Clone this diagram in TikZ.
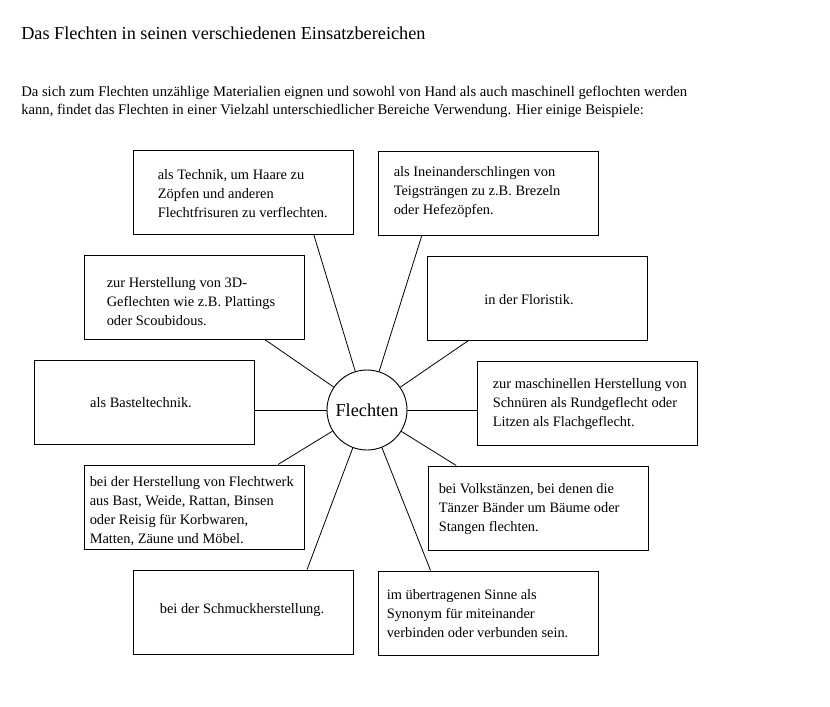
\documentclass[tikz,border=0pt]{standalone}
\usepackage{fontspec}
\setmainfont{Liberation Serif}
\usetikzlibrary{calc}

\begin{document}
\begin{tikzpicture}[x=0.75pt, y=-0.75pt,
  font=\fontsize{10.8}{14.25}\selectfont,
  feld/.style={draw, line width=0.75pt, minimum width=165pt, minimum height=63pt, inner sep=0pt},
  inhalt/.style={anchor=west, align=left, inner sep=0pt},
  strahl/.style={line width=0.6pt}]
\path[fill=white, use as bounding box] (0,0) rectangle (830,706);
% ================= heading =================
\node[anchor=base west, inner sep=0pt, font=\fontsize{13.7}{16}\selectfont] (titel) at (21,40)
   {Das Flechten in seinen verschiedenen Einsatzbereichen};
\node[anchor=base west, inner sep=0pt, align=left, font=\fontsize{11}{13.5}\selectfont] (einleitung) at (21,115)
   {Da sich zum Flechten unzählige Materialien eignen und sowohl von Hand als auch maschinell geflochten werden\\
    kann, findet das Flechten in einer Vielzahl unterschiedlicher Bereiche Verwendung. Hier einige Beispiele:};
% ================= centre =================
\node[draw, circle, line width=0.7pt, minimum size=60pt, inner sep=0pt, font=\fontsize{13.7}{16}\selectfont] (kern) at (367,410) {Flechten};
% ================= boxes, left column =================
\node[feld] (zoepfe) at (243,192) {};
\node[inhalt] (zoepfe-t) at ($(zoepfe.west)+(25,2)$)
   {als Technik, um Haare zu\\Zöpfen und anderen\\Flechtfrisuren zu verflechten.};
\node[feld] (geflecht) at (194,297) {};
\node[inhalt] (geflecht-t) at ($(geflecht.west)+(23,5)$)
   {zur Herstellung von 3D-\\Geflechten wie z.B. Plattings\\oder Scoubidous.};
\node[feld] (bastel) at (144,402) {};
\node[inhalt, anchor=center] (bastel-t) at ($(bastel.center)+(-3,1)$) {als Basteltechnik.};
\node[feld] (korb) at (194,507) {};
\node[inhalt] (korb-t) at ($(korb.west)+(6,4)$)
   {bei der Herstellung von Flechtwerk\\aus Bast, Weide, Rattan, Binsen\\oder Reisig für Korbwaren,\\Matten, Zäune und Möbel.};
\node[feld] (schmuck) at (243,612) {};
\node[inhalt, anchor=center] (schmuck-t) at ($(schmuck.center)+(-1,-2)$) {bei der Schmuckherstellung.};
% ================= boxes, right column =================
\node[feld] (brezel) at (488,193.5) {};
\node[inhalt] (brezel-t) at ($(brezel.west)+(16,-1.5)$)
   {als Ineinanderschlingen von\\Teigsträngen zu z.B. Brezeln\\oder Hefezöpfen.};
\node[feld] (floristik) at (537,298) {};
\node[inhalt, anchor=center] (floristik-t) at ($(floristik.center)+(-8,2)$) {in der Floristik.};
\node[feld] (schnur) at (587,403.5) {};
\node[inhalt] (schnur-t) at ($(schnur.west)+(16,1)$)
   {zur maschinellen Herstellung von\\Schnüren als Rundgeflecht oder\\Litzen als Flachgeflecht.};
\node[feld] (tanz) at (538,508) {};
\node[inhalt] (tanz-t) at ($(tanz.west)+(11,1)$)
   {bei Volkstänzen, bei denen die\\Tänzer Bänder um Bäume oder\\Stangen flechten.};
\node[feld] (sinn) at (488,613) {};
\node[inhalt] (sinn-t) at ($(sinn.west)+(9,1)$)
   {im übertragenen Sinne als\\Synonym für miteinander\\verbinden oder verbunden sein.};
% ================= rays =================
\foreach \n/\f in {zoepfe/0.82, brezel/0.2, geflecht/0.82, floristik/0.19}
  \draw[strahl] (kern) -- ($(\n.south west)!\f!(\n.south east)$);
\foreach \n/\f in {korb/0.88, tanz/0.13, schmuck/0.79, sinn/0.24}
  \draw[strahl] (kern) -- ($(\n.north west)!\f!(\n.north east)$);
\draw[strahl] (kern) -- (kern -| bastel.east);
\draw[strahl] (kern) -- (kern -| schnur.west);
\end{tikzpicture}
\end{document}
